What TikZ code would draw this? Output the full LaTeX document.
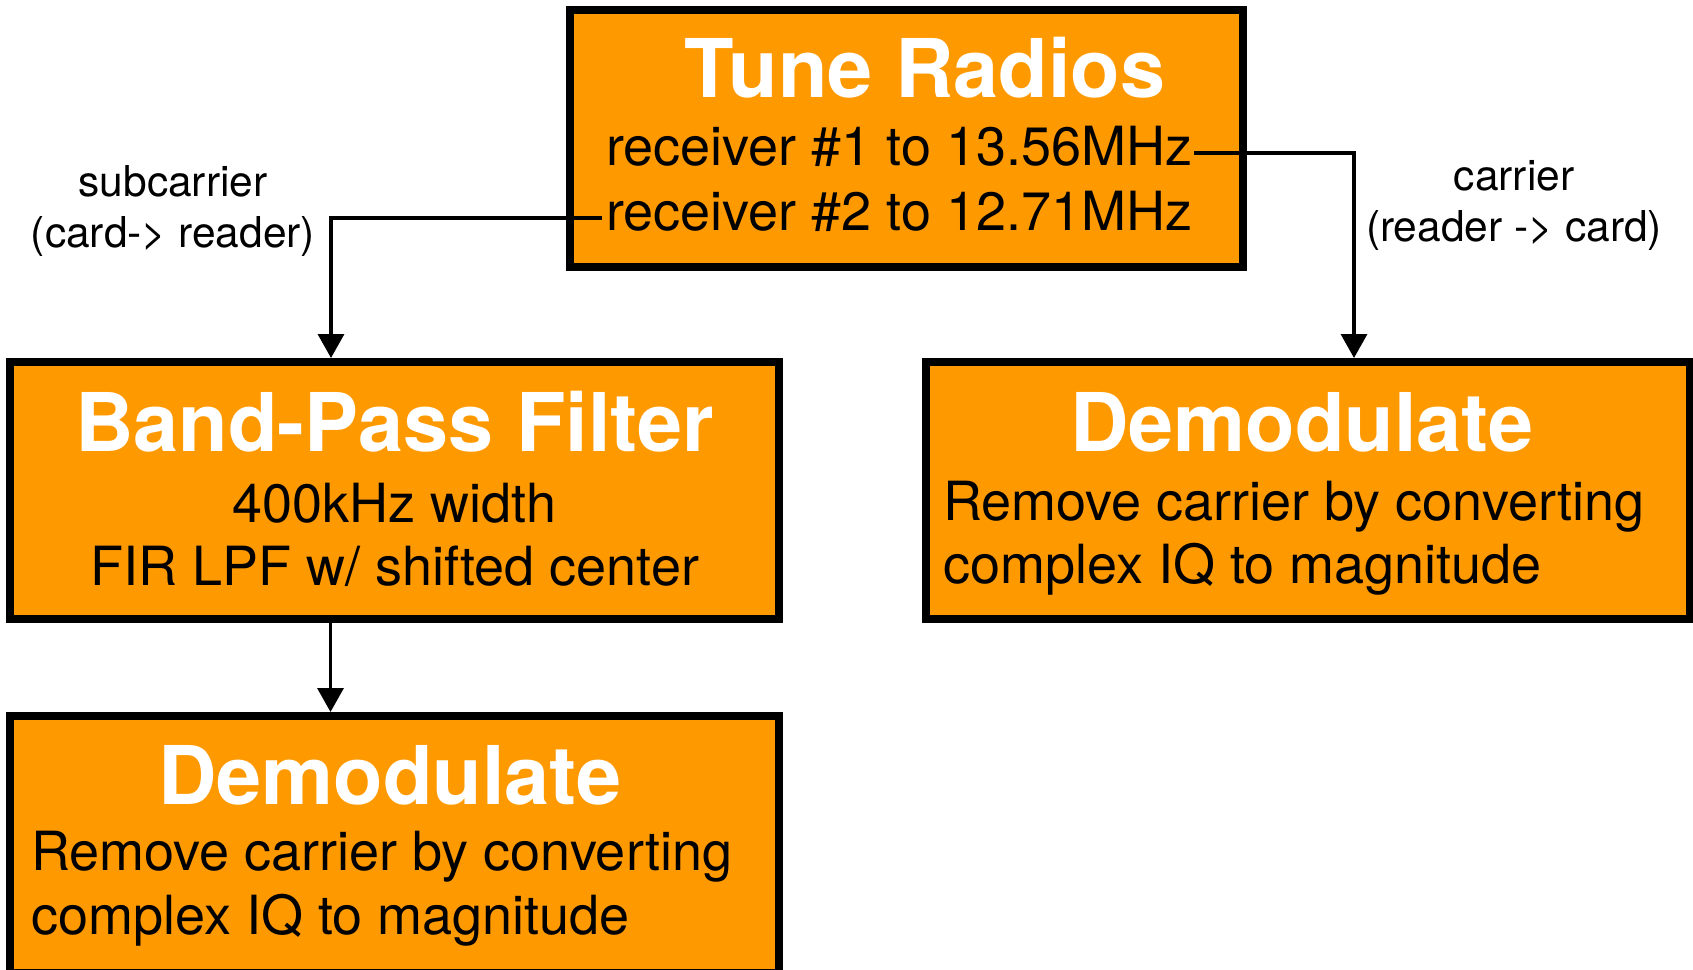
\documentclass[tikz,border=0pt]{standalone}
\usepackage{fontspec}
\setmainfont{TeX Gyre Heros}
\usetikzlibrary{arrows.meta}
\definecolor{boxorange}{RGB}{255,153,0}
\tikzset{
  block/.style={draw=black, fill=boxorange, line width=8pt, inner sep=0pt},
  ttl/.style={anchor=base, text=white, inner sep=0pt,
              font=\fontsize{81}{97}\selectfont\bfseries},
  body/.style={anchor=base, inner sep=0pt, font=\fontsize{54}{65}\selectfont},
  lbl/.style={anchor=base, inner sep=0pt, font=\fontsize{42.5}{51}\selectfont},
  conn/.style={line width=3.4pt, -{Triangle[width=26pt,length=24pt]}},
}
\begin{document}
\begin{tikzpicture}[x=1pt,y=-1pt]
\useasboundingbox (0,0) rectangle (1693,969);
\clip (0,0) rectangle (1693,969);

% boxes
\node[block, minimum width=673pt, minimum height=256.5pt] (tune) at (906.5,138.25) {};
\node[block, minimum width=769pt, minimum height=257pt] (bpf) at (394.5,490.5) {};
\node[block, minimum width=764pt, minimum height=257pt] (demR) at (1308,490.5) {};
\node[block, minimum width=769pt, minimum height=257pt] (demB) at (394.5,844.5) {};

% tuning box text
\node[ttl] (tuneT) at (925,97) {Tune Radios};
\node[body, anchor=base west] (rx1) at (606,165) {receiver \#1 to 13.56MHz};
\node[body, anchor=base west] (rx2) at (606,230) {receiver \#2 to 12.71MHz};

% band-pass filter text
\node[ttl] (bpfT) at (394.5,451) {Band-Pass Filter};
\node[body] (bpf1) at (394.5,522) {400kHz width};
\node[body] (bpf2) at (394.5,585) {FIR LPF w/ shifted center};

% carrier demodulator text
\node[ttl] (demRT) at (1302,451) {Demodulate};
\node[body, anchor=base west] (demR1) at (943,520) {Remove carrier by converting};
\node[body, anchor=base west] (demR2) at (943,583) {complex IQ to magnitude};

% subcarrier demodulator text
\node[ttl] (demBT) at (390,804) {Demodulate};
\node[body, anchor=base west] (demB1) at (31,870) {Remove carrier by converting};
\node[body, anchor=base west] (demB2) at (31,934) {complex IQ to magnitude};

% path labels
\node[lbl] (sub1) at (173,196) {subcarrier};
\node[lbl] (sub2) at (173,247) {(card-> reader)};
\node[lbl] (car1) at (1514,190) {carrier};
\node[lbl] (car2) at (1514,241) {(reader -> card)};

% connectors
\coordinate (rxR) at (1194,153);
\coordinate (rxL) at (602,218);
\draw[conn] (rxR) -| ([xshift=46pt]demR.north);
\draw[conn] (rxL) -| ([xshift=-63.5pt]bpf.north);
\draw[conn] ([xshift=-64pt]bpf.south) -- ([xshift=-64pt]demB.north);
\end{tikzpicture}
\end{document}
